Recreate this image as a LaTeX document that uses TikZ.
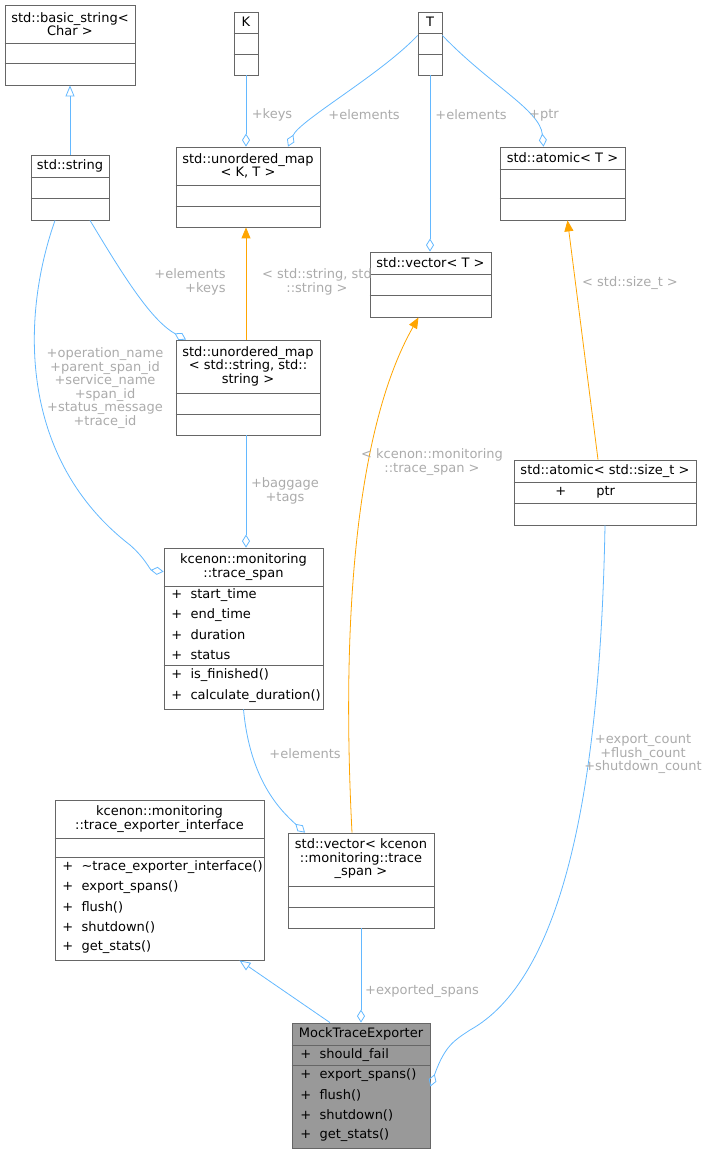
\documentclass[tikz,border=0pt]{standalone}
\usepackage{fontspec}
\setmainfont{DejaVu Sans}
\usetikzlibrary{arrows.meta}
\definecolor{edgeblue}{HTML}{63B8FF}
\definecolor{edgeorange}{HTML}{FFA500}
\definecolor{labelgray}{HTML}{ABABAB}
\definecolor{boxline}{HTML}{666666}
\tikzset{
  font={\fontsize{13pt}{13.5}\selectfont},
  every path/.style={line width=0.8pt},
  box/.style={draw=boxline, fill=white, inner sep=0pt},
  sep/.style={draw=boxline},
  title/.style={align=center, inner sep=0pt},
  member/.style={anchor=west, inner sep=0pt},
  lbl/.style={text=labelgray, align=center, inner sep=0pt},
  uses/.style={draw=edgeblue, -{Diamond[open,length=13pt,width=8pt]}},
  inherits/.style={draw=edgeblue, -{Triangle[open,length=11pt,width=9pt]}},
  templ/.style={draw=edgeorange, -{Triangle[fill=edgeorange,length=11pt,width=9pt]}}}

\begin{document}
\begin{tikzpicture}[x=1pt,y=-1pt]
\useasboundingbox (0,0) rectangle (707,1155);
% classes
\node[box, minimum width=130pt, minimum height=80pt] (bstr) at (70,45) {};
\node[title] at (70,24) {std::basic\_string<\\Char >};
\draw[sep] (bstr.west |- 0,43) -- (bstr.east |- 0,43);
\draw[sep] (bstr.west |- 0,63) -- (bstr.east |- 0,63);
\node[box, minimum width=78pt, minimum height=65pt] (str) at (70,187.5) {};
\node[title] at (70,166) {std::string};
\draw[sep] (str.west |- 0,177) -- (str.east |- 0,177);
\draw[sep] (str.west |- 0,198) -- (str.east |- 0,198);
\node[box, minimum width=24pt, minimum height=63pt] (kk) at (246,43.5) {};
\node[title] at (246,22) {K};
\draw[sep] (kk.west |- 0,33) -- (kk.east |- 0,33);
\draw[sep] (kk.west |- 0,54) -- (kk.east |- 0,54);
\node[box, minimum width=24pt, minimum height=63pt] (tt) at (430,43.5) {};
\node[title] at (430,22) {T};
\draw[sep] (tt.west |- 0,33) -- (tt.east |- 0,33);
\draw[sep] (tt.west |- 0,54) -- (tt.east |- 0,54);
\node[box, minimum width=144pt, minimum height=80pt] (umKT) at (248,187) {};
\node[title] at (248,166) {std::unordered\_map\\< K, T >};
\draw[sep] (umKT.west |- 0,185) -- (umKT.east |- 0,185);
\draw[sep] (umKT.west |- 0,206) -- (umKT.east |- 0,206);
\node[box, minimum width=125pt, minimum height=73pt] (atT) at (562.5,183.5) {};
\node[title] at (562.5,158) {std::atomic< T >};
\draw[sep] (atT.west |- 0,169) -- (atT.east |- 0,169);
\draw[sep] (atT.west |- 0,198) -- (atT.east |- 0,198);
\node[box, minimum width=121pt, minimum height=65pt] (vecT) at (430.5,284.5) {};
\node[title] at (430.5,263) {std::vector< T >};
\draw[sep] (vecT.west |- 0,274) -- (vecT.east |- 0,274);
\draw[sep] (vecT.west |- 0,295) -- (vecT.east |- 0,295);
\node[box, minimum width=144pt, minimum height=95pt] (umSS) at (248,387.5) {};
\node[title] at (248,366) {std::unordered\_map\\< std::string, std::\\string >};
\draw[sep] (umSS.west |- 0,393) -- (umSS.east |- 0,393);
\draw[sep] (umSS.west |- 0,414) -- (umSS.east |- 0,414);
\node[box, minimum width=182pt, minimum height=65pt] (atST) at (605,492.5) {};
\node[title] at (605,471) {std::atomic< std::size\_t >};
\node[member] at (555,492) {+\hspace{30pt}ptr};
\draw[sep] (atST.west |- 0,482) -- (atST.east |- 0,482);
\draw[sep] (atST.west |- 0,503) -- (atST.east |- 0,503);
\node[box, minimum width=159pt, minimum height=161pt] (ts) at (243.5,628.5) {};
\node[title] at (243.5,567) {kcenon::monitoring\\::trace\_span};
\draw[sep] (ts.west |- 0,586) -- (ts.east |- 0,586);
\node[member] at (171,595) {+\ \ start\_time};
\node[member] at (171,615) {+\ \ end\_time};
\node[member] at (171,635) {+\ \ duration};
\node[member] at (171,655) {+\ \ status};
\draw[sep] (ts.west |- 0,665) -- (ts.east |- 0,665);
\node[member] at (171,675) {+\ \ is\_finished()};
\node[member] at (171,696) {+\ \ calculate\_duration()};
\node[box, minimum width=209pt, minimum height=160pt] (tei) at (159.5,880) {};
\node[title] at (159.5,819) {kcenon::monitoring\\::trace\_exporter\_interface};
\draw[sep] (tei.west |- 0,838) -- (tei.east |- 0,838);
\draw[sep] (tei.west |- 0,857) -- (tei.east |- 0,857);
\node[member] at (62,867) {+\ \ \textasciitilde trace\_exporter\_interface()};
\node[member] at (62,887) {+\ \ export\_spans()};
\node[member] at (62,907) {+\ \ flush()};
\node[member] at (62,927) {+\ \ shutdown()};
\node[member] at (62,947) {+\ \ get\_stats()};
\node[box, minimum width=146pt, minimum height=95pt] (vecTS) at (361,880.5) {};
\node[title] at (361,859) {std::vector< kcenon\\::monitoring::trace\\\_span >};
\draw[sep] (vecTS.west |- 0,886) -- (vecTS.east |- 0,886);
\draw[sep] (vecTS.west |- 0,907) -- (vecTS.east |- 0,907);
\node[box, fill=black!40, minimum width=138pt, minimum height=125pt] (mock) at (361,1085.5) {};
\node[title] at (361,1034) {MockTraceExporter};
\draw[sep] (mock.west |- 0,1045) -- (mock.east |- 0,1045);
\node[member] at (300,1055) {+\ \ should\_fail};
\draw[sep] (mock.west |- 0,1065) -- (mock.east |- 0,1065);
\node[member] at (300,1075) {+\ \ export\_spans()};
\node[member] at (300,1095) {+\ \ flush()};
\node[member] at (300,1115) {+\ \ shutdown()};
\node[member] at (300,1135) {+\ \ get\_stats()};
% relations
\draw[inherits] (str.north) -- (bstr.south);
\draw[uses] (kk.south) -- (umKT.north -| kk.south);
\node[lbl] at (272,115) {+keys};
\draw[uses] ([yshift=8pt]tt.west) .. controls (380,75) and (300,120) .. ([xshift=40pt]umKT.north);
\node[lbl] at (364,115) {+elements};
\draw[uses] (tt.south) -- (vecT.north -| tt.south);
\node[lbl] at (471,115) {+elements};
\draw[uses] ([yshift=8pt]tt.east) .. controls (490,85) and (540,110) .. ([xshift=-19pt]atT.north);
\node[lbl] at (544,115) {+ptr};
\draw[templ] (umSS.north -| kk.south) -- (umKT.south -| kk.south);
\node[lbl] at (317,282) {< std::string, std\\::string >};
\draw[uses] ([xshift=20pt]str.south) .. controls (120,270) and (150,320) .. ([xshift=-62pt]umSS.north);
\node[lbl, align=right] at (190,282) {+elements\\+keys};
\draw[uses] ([xshift=-15pt]str.south) .. controls (20,320) and (20,460) .. (130,545) .. controls (145,558) and (150,570) .. ([yshift=-24pt]ts.north west);
\node[lbl] at (105,388) {+operation\_name\\+parent\_span\_id\\+service\_name\\+span\_id\\+status\_message\\+trace\_id};
\draw[uses] (umSS.south -| kk.south) -- (ts.north -| kk.south);
\node[lbl] at (285,491) {+baggage\\+tags};
\draw[templ] ([xshift=-9pt]vecTS.north) .. controls (340,600) and (360,420) .. ([xshift=-12pt]vecT.south);
\node[lbl] at (432,462) {< kcenon::monitoring\\::trace\_span >};
\draw[templ] ([xshift=-7pt]atST.north) -- ([xshift=5pt]atT.south);
\node[lbl] at (630,283) {< std::size\_t >};
\draw[uses] (ts.south) .. controls (250,780) and (280,810) .. ([xshift=-56pt]vecTS.north);
\node[lbl] at (305,754) {+elements};
\draw[uses] (atST.south) .. controls (600,800) and (560,980) .. (470,1030) .. controls (455,1040) and (445,1045) .. ([yshift=-1pt]mock.east);
\node[lbl] at (643,754) {+export\_count\\+flush\_count\\+shutdown\_count};
\draw[uses] (vecTS.south) -- (mock.north);
\node[lbl] at (422,991) {+exported\_spans};
\draw[inherits] ([xshift=-31pt]mock.north) -- ([xshift=80pt]tei.south);
\end{tikzpicture}
\end{document}
